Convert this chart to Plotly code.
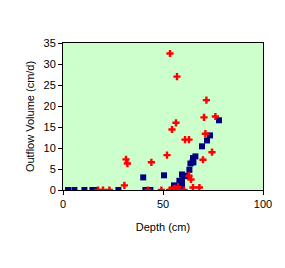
import plotly.graph_objects as go

blue_x = [2.5, 5.7, 10.7, 14.7, 16.0, 27.7, 40.1, 41.2, 43.7, 50.5, 54.8, 55.5, 57.5, 58.2, 59.0,
          59.5, 59.5, 59.5, 60.3, 61.3, 63.2, 63.7, 64.8, 65.0, 65.2, 66.2, 69.5, 72.0, 73.5, 78.0]
blue_y = [0, 0, 0, 0, 0, 0, 3.0, 0, 0, 3.5, 0, 1.1, 0.4, 2.2, 0.8,
          2.2, 1.3, 3.7, 3.4, 3.3, 4.8, 6.3, 6.6, 7.6, 6.6, 8.0, 10.4, 11.8, 13.0, 16.6]

red_x = [17.5, 20.0, 23.2, 30.7, 31.5, 32.2, 42.5, 44.2, 49.2, 52.0, 53.5, 53.3, 54.0, 54.5,
         55.3, 56.0, 56.5, 57.0, 57.5, 57.8, 60.5, 61.0, 63.0, 63.0, 64.0, 65.0, 68.2, 70.0,
         70.5, 71.2, 71.7, 74.5, 76.2]
red_y = [0, 0, 0, 1.1, 7.3, 6.3, 0, 6.6, 0, 8.3, 32.5, 0, 0, 14.4,
         0.3, 0.4, 16.0, 27.0, 0.7, 0, 0, 12.0, 12.0, 3.4, 2.5, 0.6, 0.6, 7.2,
         17.3, 13.4, 21.4, 9.0, 17.5]

fig = go.Figure()
fig.add_trace(go.Scatter(x=blue_x, y=blue_y, mode="markers",
                         marker=dict(symbol="square", size=6, color="#000080"),
                         showlegend=False))
fig.add_trace(go.Scatter(x=red_x, y=red_y, mode="markers",
                         marker=dict(symbol="cross", size=6, color="#FF0000"),
                         showlegend=False))

axis_common = dict(showline=True, linecolor="black", linewidth=1, mirror=True,
                   ticks="outside", ticklen=4, tickcolor="black", showgrid=False,
                   zeroline=False, tickfont=dict(family="Liberation Sans, Arial", size=11, color="black"))
fig.update_xaxes(range=[0, 100], dtick=50, title=dict(text="Depth (cm)", standoff=14,
                 font=dict(family="Liberation Sans, Arial", size=11, color="black")), **axis_common)
fig.update_yaxes(range=[0, 35], dtick=5, title=dict(text="Outflow Volume (cm/d)", standoff=6,
                 font=dict(family="Liberation Sans, Arial", size=11, color="black")), **axis_common)
fig.update_layout(width=285, height=268, margin=dict(l=63, r=22, t=43, b=78),
                  plot_bgcolor="#CCFFCC", paper_bgcolor="white")
fig.write_html("out.html")
